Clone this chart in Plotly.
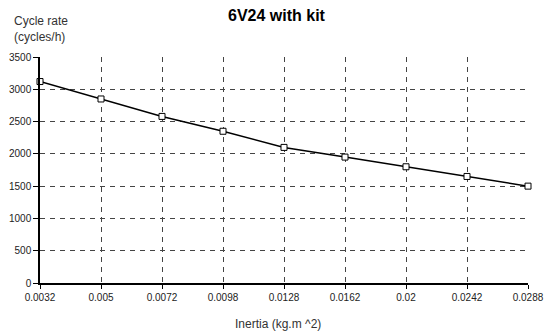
import plotly.graph_objects as go

inertia_labels = ["0.0032", "0.005", "0.0072", "0.0098", "0.0128", "0.0162", "0.02", "0.0242", "0.0288"]
cycle_rate = [3120, 2850, 2580, 2350, 2100, 1950, 1800, 1650, 1500]
y_ticks = [0, 500, 1000, 1500, 2000, 2500, 3000, 3500]

title_text = "6V24 with kit"
x_title = "Inertia (kg.m ^2)"
y_title = "Cycle rate<br>(cycles/h)"

font_family = "Liberation Sans, Arial, sans-serif"

# page body has an 8px margin; figure sized to fit the 554x333 window
W, H = 546, 325
ML, MR, MT, MB = 32, 26, 49, 50
PW = W - ML - MR
PH = H - MT - MB
OFF = 8


def px_to_paper(px, py):
    return (px - OFF - ML) / PW, (OFF + H - MB - py) / PH


fig = go.Figure()
fig.add_trace(go.Scatter(
    x=inertia_labels, y=cycle_rate, mode="lines+markers",
    line=dict(color="black", width=1.5),
    marker=dict(symbol="square", size=6, color="white", line=dict(color="black", width=1)),
    cliponaxis=False, showlegend=False,
))

axis_common = dict(
    showgrid=True, gridcolor="#444", griddash="5px,5px", gridwidth=1,
    showline=True, linecolor="black", linewidth=1.5,
    ticks="outside", tickcolor="black",
    tickfont=dict(size=10, color="#222"),
    zeroline=False, automargin=False,
)

fig.update_layout(
    width=W, height=H,
    margin=dict(l=ML, r=MR, t=MT, b=MB),
    paper_bgcolor="white", plot_bgcolor="white",
    font=dict(family=font_family, size=10, color="#222"),
    xaxis=dict(type="category", range=[0, len(inertia_labels) - 1], ticklen=4, **axis_common),
    yaxis=dict(range=[0, 3500], tickvals=y_ticks, ticklen=5, **axis_common),
)

tx, ty = px_to_paper(277, 5)
yx, yy = px_to_paper(12, 29)
xx, xy = px_to_paper(277.5, 324)
fig.update_layout(annotations=[
    dict(text="<b>" + title_text + "</b>", x=tx, y=ty, xref="paper", yref="paper",
         showarrow=False, xanchor="center", yanchor="top",
         font=dict(size=16, color="black")),
    dict(text=y_title, x=yx, y=yy, xref="paper", yref="paper", showarrow=False,
         xanchor="left", yanchor="middle", align="left",
         font=dict(size=12, color="#333")),
    dict(text=x_title, x=xx, y=xy, xref="paper", yref="paper", showarrow=False,
         xanchor="center", yanchor="middle", font=dict(size=12, color="#333")),
])

fig.write_html("out.html")
